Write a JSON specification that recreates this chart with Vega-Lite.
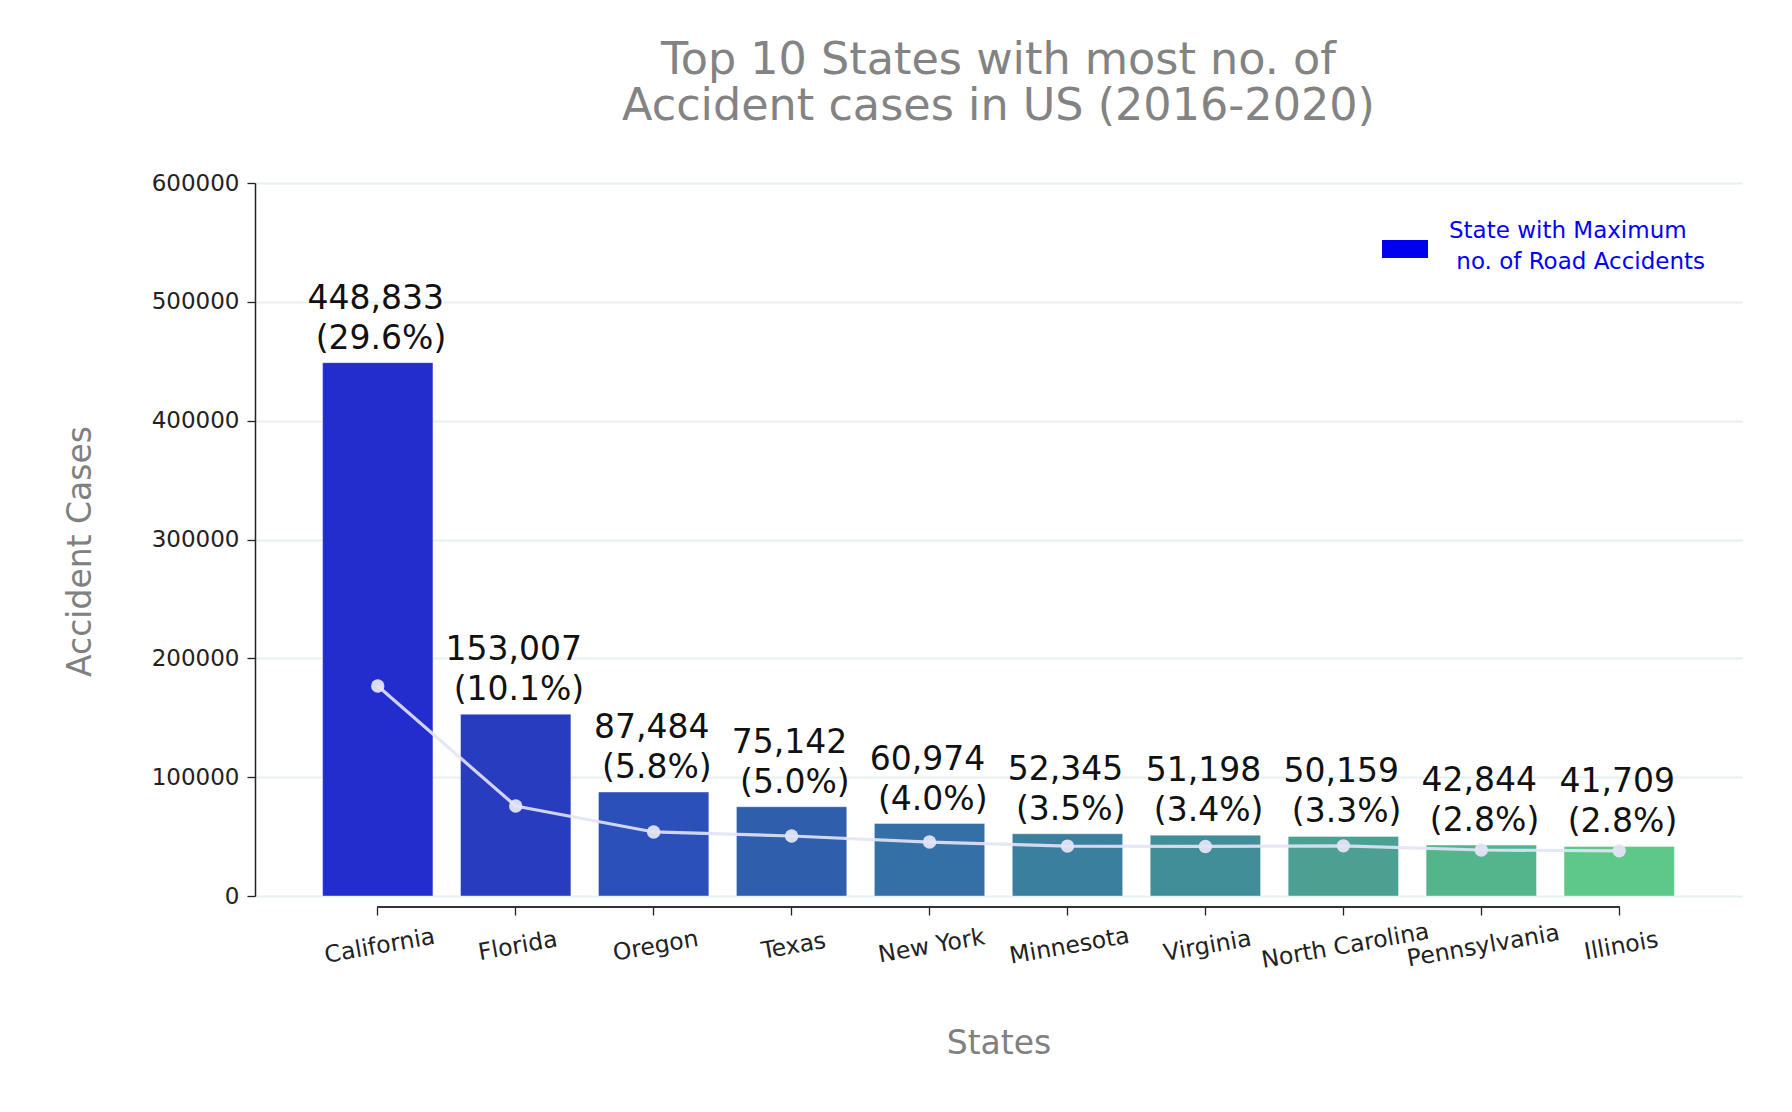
{
  "$schema": "https://vega.github.io/schema/vega-lite/v6.json",
  "autosize": {"type": "none"},
  "padding": {"left": 255, "top": 183, "right": 50, "bottom": 216},
  "width": 1487,
  "height": 713,
  "background": "white",
  "config": {
    "view": {"stroke": null},
    "font": "DejaVu Sans"
  },
  "title": {
    "text": ["Top 10 States with most no. of", "Accident cases in US (2016-2020)"],
    "font": "DejaVu Sans",
    "fontSize": 44.5,
    "fontWeight": "normal",
    "color": "#838383",
    "lineHeight": 46,
    "anchor": "middle",
    "offset": 43
  },
  "data": {
    "values": [
      {"state": "California", "cases": 448833, "pct": 29.6, "trend": 176700},
      {"state": "Florida", "cases": 153007, "pct": 10.1, "trend": 75700},
      {"state": "Oregon", "cases": 87484, "pct": 5.8, "trend": 53900},
      {"state": "Texas", "cases": 75142, "pct": 5.0, "trend": 50500},
      {"state": "New York", "cases": 60974, "pct": 4.0, "trend": 45400},
      {"state": "Minnesota", "cases": 52345, "pct": 3.5, "trend": 42000},
      {"state": "Virginia", "cases": 51198, "pct": 3.4, "trend": 41700},
      {"state": "North Carolina", "cases": 50159, "pct": 3.3, "trend": 42200},
      {"state": "Pennsylvania", "cases": 42844, "pct": 2.8, "trend": 38700},
      {"state": "Illinois", "cases": 41709, "pct": 2.8, "trend": 38000}
    ]
  },
  "transform": [
    {"calculate": "[format(datum.cases, ','), '\u200b\u00a0(' + format(datum.pct, '.1f') + '%)']", "as": "label"}
  ],
  "encoding": {
    "x": {
      "field": "state",
      "type": "nominal",
      "sort": null,
      "scale": {"paddingInner": 0.2, "paddingOuter": 0.49},
      "axis": {
        "title": "States",
        "titleFont": "DejaVu Sans",
        "titleFontSize": 33,
        "titleFontWeight": "normal",
        "titleColor": "#808080",
        "titlePadding": 56,
        "offset": 11,
        "domain": false,
        "ticks": true,
        "tickSize": 8,
        "tickWidth": 1.3,
        "tickColor": "#222222",
        "labelAngle": -10,
        "labelAlign": "center",
        "labelBaseline": "top",
        "labelFont": "DejaVu Sans",
        "labelFontSize": 23.5,
        "labelColor": "#222222",
        "labelPadding": 19,
        "labelLimit": 400,
        "grid": false
      }
    }
  },
  "layer": [
    {
      "mark": {"type": "bar", "stroke": "white", "strokeWidth": 1, "strokeOpacity": 0.4},
      "encoding": {
        "y": {
          "field": "cases",
          "type": "quantitative",
          "scale": {"domain": [0, 600000], "nice": false, "zero": true},
          "axis": {
            "title": "Accident Cases",
            "titleFont": "DejaVu Sans",
            "titleFontSize": 33,
            "titleFontWeight": "normal",
            "titleColor": "#808080",
            "titlePadding": 54,
            "titleY": 368,
            "values": [0, 100000, 200000, 300000, 400000, 500000, 600000],
            "format": "d",
            "labelFont": "DejaVu Sans",
            "labelFontSize": 23,
            "labelColor": "#222222",
            "labelPadding": 8,
            "tickSize": 8,
            "tickWidth": 1.3,
            "tickColor": "#222222",
            "domainColor": "#222222",
            "domainWidth": 1.5,
            "grid": true,
            "gridColor": "#e6f1ee",
            "gridWidth": 2
          }
        },
        "color": {
          "field": "state",
          "type": "nominal",
          "sort": null,
          "legend": null,
          "scale": {
            "domain": ["California", "Florida", "Oregon", "Texas", "New York", "Minnesota", "Virginia", "North Carolina", "Pennsylvania", "Illinois"],
            "range": ["#232dcd", "#283cc0", "#2b50b9", "#2f5fac", "#3470a5", "#3a7f9e", "#428e98", "#4ba091", "#54b48c", "#5ec889"]
          }
        }
      }
    },
    {
      "mark": {"type": "line", "color": "#e2e4f6", "opacity": 0.9, "strokeWidth": 3.2},
      "encoding": {
        "y": {"field": "trend", "type": "quantitative"}
      }
    },
    {
      "mark": {"type": "point", "filled": true, "color": "#e2e4f6", "opacity": 0.95, "size": 180},
      "encoding": {
        "y": {"field": "trend", "type": "quantitative"}
      }
    },
    {
      "mark": {"type": "text", "font": "DejaVu Sans", "fontSize": 33, "color": "#111111", "baseline": "bottom", "align": "center", "lineHeight": 40, "dy": -47, "dx": -2},
      "encoding": {
        "y": {"field": "cases", "type": "quantitative"},
        "text": {"field": "label"}
      }
    },
    {
      "mark": {"type": "rule", "color": "#333333", "strokeWidth": 2},
      "encoding": {
        "x": {"datum": "California"},
        "x2": {"datum": "Illinois"},
        "y": {"datum": -9250}
      }
    },
    {
      "transform": [{"filter": "datum.cases == 448833"}],
      "mark": {"type": "bar", "opacity": 0},
      "encoding": {
        "y": {"field": "cases", "type": "quantitative"},
        "fill": {
          "datum": "State with Maximum no. of Road Accidents",
          "scale": {"range": ["#0000ee"]},
          "legend": {
            "title": null,
            "orient": "none",
            "legendX": 1127,
            "legendY": 43,
            "padding": 0,
            "symbolType": "M-1,-0.39H1V0.39H-1Z",
            "symbolSize": 2116,
            "symbolOpacity": 1,
            "symbolStrokeWidth": 0,
            "labelExpr": "['State with Maximum', '\u200b\u00a0no. of Road Accidents']",
            "labelFont": "DejaVu Sans",
            "labelFontSize": 23,
            "labelColor": "#0000ff",
            "labelOffset": 21,
            "labelLimit": 500,
            "labelBaseline": "middle",
            "encoding": {"labels": {"lineHeight": {"value": 31}, "dy": {"value": -18}}}
          }
        }
      }
    }
  ]
}
